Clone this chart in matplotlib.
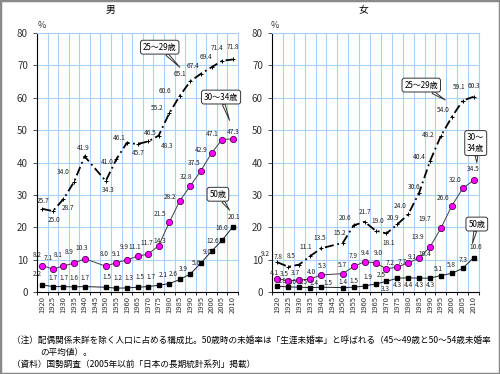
import numpy as np
import matplotlib.pyplot as plt
from matplotlib.patches import Rectangle

plt.rcParams['font.family'] = ['Noto Sans CJK JP', 'DejaVu Sans']

nan = np.nan
years = [1920, 1925, 1930, 1935, 1940, 1945, 1950, 1955, 1960, 1965,
         1970, 1975, 1980, 1985, 1990, 1995, 2000, 2005, 2010]

# 男
male_25 = [25.7, 25.0, 28.7, 34.0, 41.9, nan, 34.3, 41.0, 46.1, 45.7,
           46.5, 48.3, 55.2, 60.6, 65.1, 67.4, 69.4, 71.4, 71.8]
male_30 = [8.2, 7.1, 8.1, 8.9, 10.3, nan, 8.0, 9.1, 9.9, 11.1,
           11.7, 14.3, 21.5, 28.2, 32.8, 37.5, 42.9, 47.1, 47.3]
male_50 = [2.2, 1.7, 1.7, 1.6, 1.7, nan, 1.5, 1.2, 1.3, 1.5,
           1.7, 2.1, 2.6, 3.9, 5.6, 9.0, 12.6, 16.0, 20.1]
# 女
female_25 = [9.2, 7.8, 8.5, 11.1, 13.5, nan, 15.2, 20.6, 21.7, 19.0,
             18.1, 20.9, 24.0, 30.6, 40.4, 48.2, 54.0, 59.1, 60.3]
female_30 = [4.1, 3.5, 3.7, 4.0, 5.3, nan, 5.7, 7.9, 9.4, 9.0,
             7.2, 7.7, 9.1, 10.4, 13.9, 19.7, 26.6, 32.0, 34.5]
female_50 = [1.8, 1.6, 1.5, 1.4, 1.5, nan, 1.4, 1.5, 1.9, 2.5,
             3.3, 4.3, 4.4, 4.3, 4.3, 5.1, 5.8, 7.3, 10.6]

# label offsets in pixels (dx, dy), one per year
off_m25 = [(1, 8), (1, -9), (5, -9), (-11, 10), (-1, 8), None, (2, -9), (-9, -3), (-8, 5), (1, -9),
           (2, 8), (8, -10), (-12, 5), (-15, 5), (-10, 7), (-8, 8), (-6, 10), (-5, 13), (0, 12)]
off_m30 = [(-5, 11), (-5, 11), (-5, 11), (-5, 11), (-3, 11), None, (-2, 12), (0, 9), (-3, 13), (-3, 9),
           (-1, 11), (1, 5), (-9, 8), (-10, 4), (-4, 9), (-7, 8), (-10, 3), (-10, 6), (0, 7)]
off_m50 = [(-5, 11), (0, 9), (0, 9), (0, 9), (0, 9), None, (1, 10), (2, 10), (2, 10), (2, 10),
           (3, 10), (5, 10), (4, 10), (3, 10), (6, 11), (6, 11), (1, 10), (0, 12), (1, 10)]
off_f25 = [(-12, 8), (-10, 10), (-8, 9), (-4, 9), (-1, 10), None, (-3, 10), (-9, 7), (0, 10), (2, 10),
           (2, -10), (-4, 6), (-8, 8), (-5, 6), (-11, 4), (-13, 1), (-9, 7), (-4, 14), (0, 11)]
off_f30 = [(-3, 6), (-4, 7), (-4, 7), (1, 7), (1, 9), None, (0, 9), (-1, 10), (1, 9), (3, 10),
           (4, 6), (5, 5), (4, 6), (6, 4), (-12, 10), (-16, 9), (-9, 8), (-8, 8), (0, 11)]
off_f50 = [(4, 5), (4, 5), (4, 5), (4, 5), (7, 4), None, (0, 6), (0, 6), (3, 9), (6, 9),
           (-1, -8), (0, -7), (0, -7), (0, -7), (0, -7), (-3, 7), (0, 8), (0, 8), (2, 11)]

x = np.arange(len(years))
grid_c = '#a9d2fb'


def panel(ax, series, callouts):
    ax.set_xlim(-0.5, len(years) - 0.5)
    ax.set_ylim(0, 80)
    ax.set_yticks(range(0, 81, 10))
    ax.set_xticks(x)
    ax.set_xticklabels(years, rotation=90, fontsize=5.5, color='#333333')
    ax.set_xticks(np.arange(-0.5, len(years), 1), minor=True)
    ax.tick_params(axis='x', which='major', length=0, pad=3)
    ax.tick_params(axis='x', which='minor', length=2.5, width=0.6)
    ax.tick_params(axis='y', labelsize=7, length=3, width=0.6, colors='#333333')
    ax.grid(which='minor', axis='x', color=grid_c, lw=0.8)
    ax.grid(which='major', axis='y', color=grid_c, lw=0.8)
    ax.set_axisbelow(True)
    for s in ('top', 'right'):
        ax.spines[s].set_color(grid_c)
    for s in ('left', 'bottom'):
        ax.spines[s].set_color('black')
        ax.spines[s].set_linewidth(0.8)

    for y, off, style in series:
        y = np.array(y)
        m = ~np.isnan(y)
        ax.plot(x[m], y[m], **style)
        for i, v in enumerate(y):
            if np.isnan(v):
                continue
            ax.annotate(f'{v:.1f}', (i, v), xytext=off[i], textcoords='offset pixels',
                        ha='center', va='center', fontsize=4.7, color='#222222')

    for txt, tip, pos in callouts:
        ax.annotate(txt, xy=tip, xytext=pos, ha='center', va='center', fontsize=5.8,
                    linespacing=1.3,
                    bbox=dict(boxstyle='round,pad=0.3', fc='white', ec='#333333', lw=0.7),
                    arrowprops=dict(arrowstyle='wedge,tail_width=0.35', fc='white',
                                    ec='#333333', lw=0.7, shrinkA=0, shrinkB=0))


s25 = dict(color='black', ls=(0, (5, 2, 1, 2)), lw=1.3, marker='+', ms=3, mew=0.7)
s30 = dict(color='#404040', lw=0.7, marker='o', ms=4.5, mfc='#ff00ff', mec='#500050', mew=0.6)
s50 = dict(color='#202020', lw=0.7, marker='s', ms=3.2, mfc='black', mec='black')

fig = plt.figure(figsize=(5, 3.74), dpi=100)
fig.patches.append(Rectangle((0, 0), 1, 1, transform=fig.transFigure, fill=False,
                             ec='#8a8a8a', lw=2.5))

ax1 = fig.add_axes([0.074, 0.219, 0.402, 0.693])
panel(ax1, [(male_25, off_m25, s25), (male_30, off_m30, s30), (male_50, off_m50, s50)],
      [('25〜29歳', (13.0, 69.4), (11.1, 75.6)),
       ('30〜34歳', (17.7, 53.0), (16.9, 60.2)),
       ('50歳', (17.7, 25.3), (16.6, 30.2))])

ax2 = fig.add_axes([0.544, 0.219, 0.414, 0.693])
panel(ax2, [(female_25, off_f25, s25), (female_30, off_f30, s30), (female_50, off_f50, s50)],
      [('25〜29歳', (15.4, 59.3), (13.2, 63.9)),
       ('30〜\n34歳', (18.3, 40.0), (18.2, 46.0)),
       ('50歳', (17.9, 15.0), (18.3, 21.0))])

fig.text(110 / 500, 1 - 10 / 374, '男', ha='center', va='center', fontsize=7)
fig.text(363 / 500, 1 - 10 / 374, '女', ha='center', va='center', fontsize=7)
fig.text(42 / 500, 1 - 25 / 374, '%', ha='center', va='center', fontsize=6.5, color='#333333')
fig.text(275 / 500, 1 - 25 / 374, '%', ha='center', va='center', fontsize=6.5, color='#333333')

fig.text(12 / 500, 1 - 340 / 374,
         '（注）配偶関係未詳を除く人口に占める構成比。50歳時の未婚率は「生涯未婚率」と呼ばれる（45〜49歳と50〜54歳未婚率',
         ha='left', va='center', fontsize=6.2)
fig.text(40 / 500, 1 - 352 / 374, 'の平均値）。', ha='left', va='center', fontsize=6.2)
fig.text(12 / 500, 1 - 364 / 374, '（資料）国勢調査（2005年以前「日本の長期統計系列」掲載）',
         ha='left', va='center', fontsize=6.2)

fig.savefig('out.png', dpi=100)
